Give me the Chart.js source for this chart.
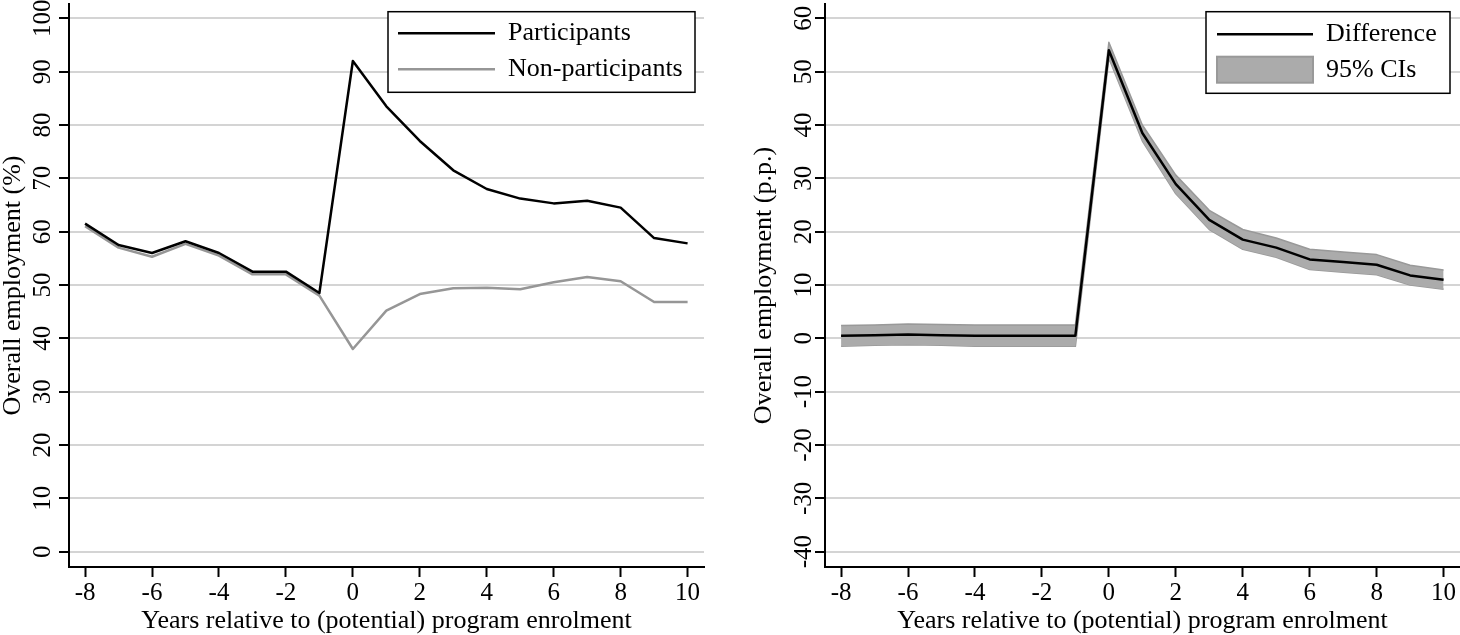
<!DOCTYPE html>
<html>
<head>
<meta charset="utf-8">
<title>Employment around program enrolment</title>
<script src="https://cdn.jsdelivr.net/npm/chart.js@4.4.1/dist/chart.umd.min.js"></script>
<style>
  html, body { margin: 0; padding: 0; background: #fff; }
  #wrap { position: relative; width: 1460px; height: 635px; }
  .panel { position: absolute; top: 0; width: 730px; height: 635px; }
  #leftPanel { left: 0; }
  #rightPanel { left: 730px; }
</style>
</head>
<body>
<div id="wrap">
  <div class="panel" id="leftPanel"><canvas id="levelsChart" width="730" height="635"></canvas></div>
  <div class="panel" id="rightPanel"><canvas id="diffChart" width="730" height="635"></canvas></div>
</div>
<script>
// values
const years = [-8, -7, -6, -5, -4, -3, -2, -1, 0, 1, 2, 3, 4, 5, 6, 7, 8, 9, 10];
const participants = [61.5, 57.5, 56, 58.2, 56, 52.5, 52.5, 48.5, 92, 83.5, 77, 71.5, 68, 66.2, 65.3, 65.8, 64.5, 58.8, 57.8];
const nonParticipants = [61, 57, 55.3, 57.7, 55.5, 52, 52, 48, 38, 45.2, 48.3, 49.4, 49.5, 49.2, 50.5, 51.5, 50.7, 46.8, 46.8];
const difference = [0.5, 0.6, 0.7, 0.6, 0.5, 0.5, 0.5, 0.5, 54, 38.5, 28.9, 22.2, 18.5, 17, 14.8, 14.3, 13.8, 11.8, 11];
const ciUpper = [2.4, 2.5, 2.7, 2.6, 2.5, 2.5, 2.5, 2.5, 55.5, 40, 30.6, 24, 20.4, 18.8, 16.7, 16.2, 15.7, 13.7, 12.8];
const ciLower = [-1.5, -1.3, -1.2, -1.3, -1.5, -1.5, -1.5, -1.5, 52.5, 37, 27.1, 20.4, 16.7, 15.2, 12.9, 12.4, 11.9, 10, 9.2];

const xTicks = [-8, -6, -4, -2, 0, 2, 4, 6, 8, 10];
const levelTicks = [0, 10, 20, 30, 40, 50, 60, 70, 80, 90, 100];
const diffTicks = [-40, -30, -20, -10, 0, 10, 20, 30, 40, 50, 60];

const FONT = '"Liberation Serif", "Times New Roman", serif';
Chart.defaults.font.family = FONT;
Chart.defaults.color = '#000';

const toPoints = vals => vals.map((v, i) => ({ x: years[i], y: v }));

// framed legend drawn inside the plot area, like the original
const boxLegend = {
  id: 'boxLegend',
  afterDraw(chart, args, opts) {
    if (!opts.items) return;
    const ctx = chart.ctx;
    const area = chart.chartArea;
    const left = area.right - opts.inset - opts.width;
    const top = area.top + opts.top;
    ctx.save();
    ctx.fillStyle = '#fff';
    ctx.fillRect(left, top, opts.width, opts.height);
    ctx.strokeStyle = '#000';
    ctx.lineWidth = 1.5;
    ctx.strokeRect(left, top, opts.width, opts.height);
    ctx.font = '26px ' + FONT;
    ctx.textBaseline = 'middle';
    opts.items.forEach((item, i) => {
      const ds = chart.data.datasets[item.dataset];
      const y = top + opts.rowY[i];
      const x0 = left + opts.sampleX;
      if (item.kind === 'band') {
        ctx.fillStyle = ds.backgroundColor;
        ctx.fillRect(x0, y - 13, opts.sampleW, 26);
        ctx.strokeStyle = ds.borderColor;
        ctx.lineWidth = 2;
        ctx.strokeRect(x0, y - 13, opts.sampleW, 26);
      } else {
        ctx.strokeStyle = ds.borderColor;
        ctx.lineWidth = ds.borderWidth;
        ctx.beginPath();
        ctx.moveTo(x0, y);
        ctx.lineTo(x0 + opts.sampleW, y);
        ctx.stroke();
      }
      ctx.fillStyle = '#000';
      ctx.fillText(ds.label, left + opts.textX, y);
    });
    ctx.restore();
  }
};

function xScale() {
  return {
    type: 'linear',
    min: -8.48,
    max: 10.49,
    afterBuildTicks: s => { s.ticks = xTicks.map(v => ({ value: v })); },
    afterFit: s => { s.height = 68; s.paddingLeft = 0; s.paddingRight = 0; },
    grid: { drawOnChartArea: false, drawTicks: true, tickLength: 10, tickColor: '#000', tickWidth: 2 },
    border: { display: true, color: '#000', width: 2 },
    ticks: { autoSkip: false, maxRotation: 0, padding: 1, font: { size: 25 } },
    title: { display: true, text: 'Years relative to (potential) program enrolment', font: { size: 26 }, padding: { top: 0, bottom: -2 } }
  };
}

function yScale(min, max, tickVals, width, pad, titleText) {
  return {
    type: 'linear',
    min: min,
    max: max,
    afterBuildTicks: s => { s.ticks = tickVals.map(v => ({ value: v })); },
    afterFit: s => { s.width = width; s.paddingTop = 0; s.paddingBottom = 0; },
    grid: { color: '#d4d4d4', lineWidth: 2, drawTicks: true, tickLength: 10, tickColor: '#000', tickWidth: 2 },
    border: { display: true, color: '#000', width: 2 },
    ticks: { autoSkip: false, minRotation: 90, maxRotation: 90, crossAlign: 'center', padding: pad, font: { size: 25 } },
    title: { display: true, text: titleText, font: { size: 26 }, padding: { top: -2, bottom: 0 } }
  };
}

new Chart(document.getElementById('levelsChart'), {
  type: 'line',
  data: {
    datasets: [
      { label: 'Participants', data: toPoints(participants), borderColor: '#000', borderWidth: 2.5 },
      { label: 'Non-participants', data: toPoints(nonParticipants), borderColor: '#969696', borderWidth: 2.5 }
    ]
  },
  options: {
    responsive: false,
    animation: false,
    devicePixelRatio: 1,
    layout: { padding: { top: 4, right: 26, left: 0, bottom: 0 } },
    elements: { point: { radius: 0 }, line: { tension: 0, borderJoinStyle: 'round', fill: false } },
    scales: {
      x: xScale(),
      y: yScale(-2.87, 102.68, levelTicks, 69, -3, 'Overall employment (%)')
    },
    plugins: {
      legend: { display: false },
      tooltip: { enabled: false },
      boxLegend: {
        inset: 9, top: 7.7, width: 307, height: 80.6,
        sampleX: 10, sampleW: 97, textX: 120, rowY: [21.6, 57.6],
        items: [{ dataset: 0 }, { dataset: 1 }]
      }
    }
  },
  plugins: [boxLegend]
});

new Chart(document.getElementById('diffChart'), {
  type: 'line',
  data: {
    datasets: [
      { label: 'Difference', data: toPoints(difference), borderColor: '#000', borderWidth: 2.5 },
      { label: '95% CIs', data: toPoints(ciUpper), borderColor: '#999999', borderWidth: 1.5, backgroundColor: '#ababab', fill: '+1' },
      { label: 'lower', data: toPoints(ciLower), borderColor: '#999999', borderWidth: 1.5 }
    ]
  },
  options: {
    responsive: false,
    animation: false,
    devicePixelRatio: 1,
    layout: { padding: { top: 4, right: 0, left: 21, bottom: 0 } },
    elements: { point: { radius: 0 }, line: { tension: 0, borderJoinStyle: 'round' } },
    scales: {
      x: xScale(),
      y: yScale(-42.87, 62.68, diffTicks, 74, -6, 'Overall employment (p.p.)')
    },
    plugins: {
      legend: { display: false },
      tooltip: { enabled: false },
      boxLegend: {
        inset: 10, top: 7.7, width: 244, height: 81.6,
        sampleX: 11, sampleW: 96, textX: 120, rowY: [22.6, 58],
        items: [{ dataset: 0 }, { dataset: 1, kind: 'band' }]
      }
    }
  },
  plugins: [boxLegend]
});
</script>
</body>
</html>
